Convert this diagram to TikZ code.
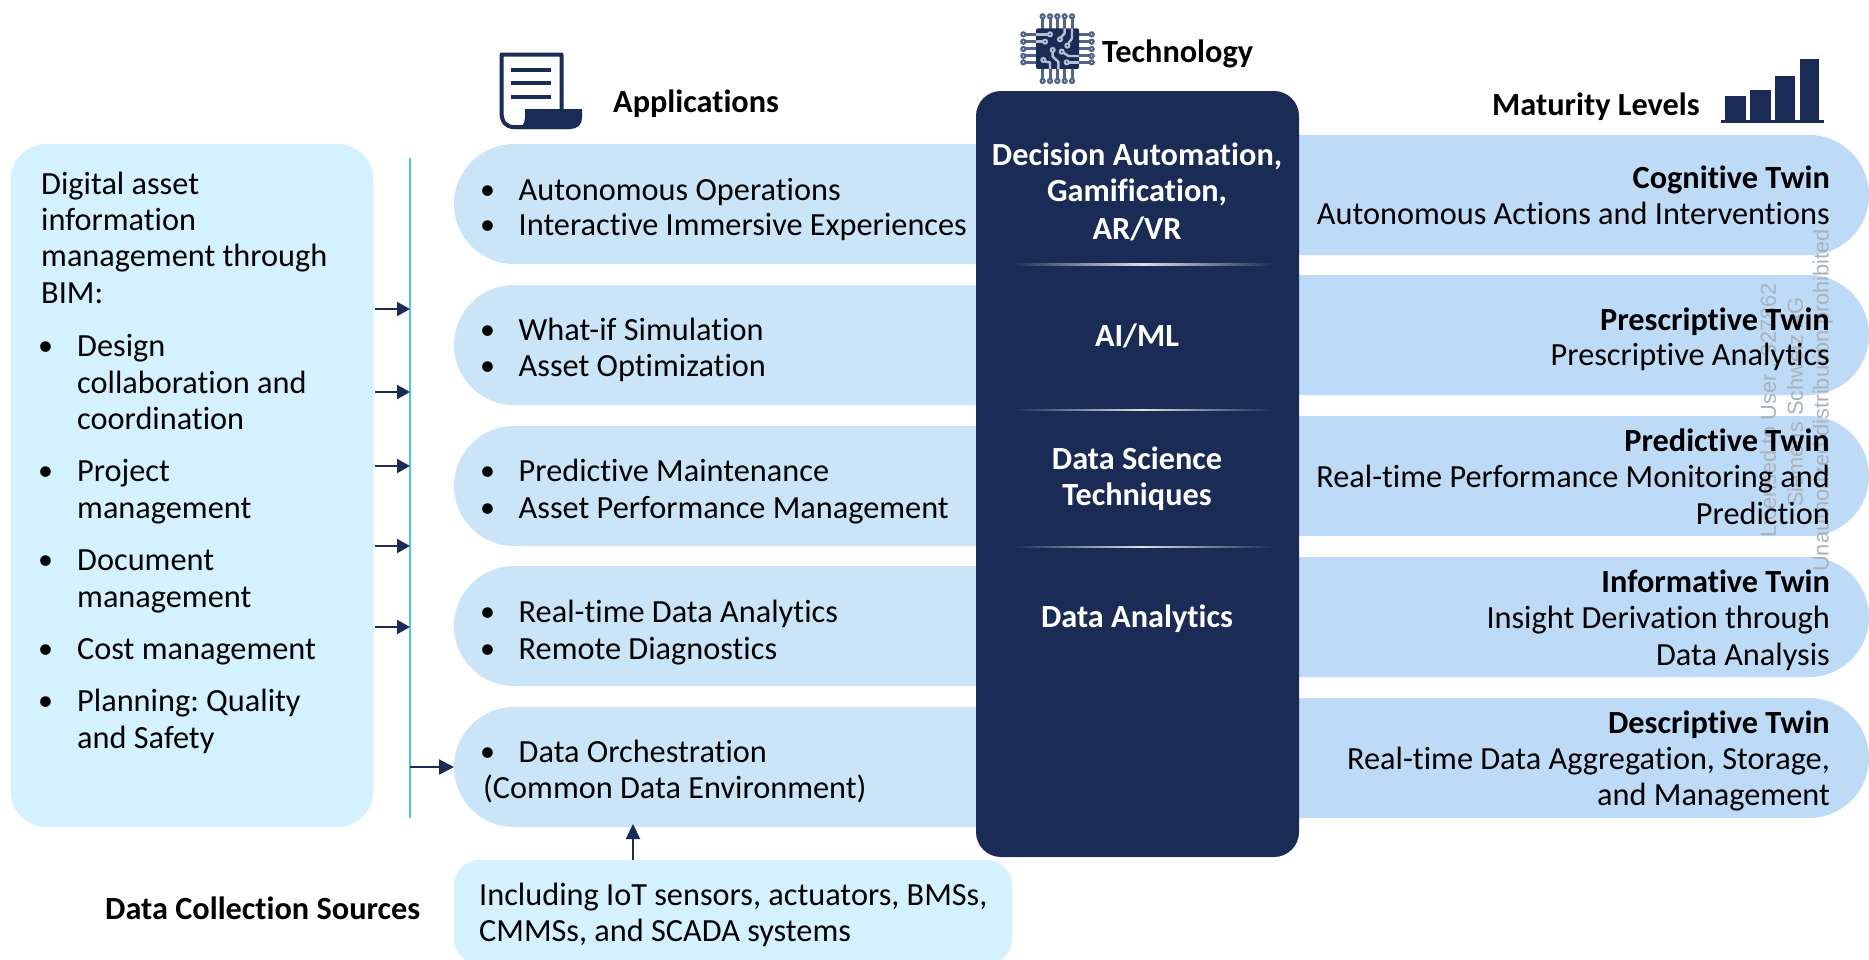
\documentclass[tikz,border=0pt]{standalone}
\usepackage{fontspec}
\setmainfont[Ligatures=NoCommon]{Carlito}
\newfontfamily\wmfont{Liberation Sans}
\usetikzlibrary{arrows.meta}
\AtBeginDocument{\frenchspacing}
\definecolor{navy}{HTML}{1A2C56}
\definecolor{pinblue}{HTML}{50648A}
\definecolor{tracelight}{HTML}{B4C0D4}
\definecolor{apppill}{HTML}{CAE5F8}
\definecolor{twinpill}{HTML}{BDDAF6}
\definecolor{lightbox}{HTML}{D4F1FF}
\definecolor{rulecyan}{HTML}{4FC3F0}
\definecolor{wmgray}{HTML}{A9B2BC}
\tikzset{
  txt/.style={font=\fontsize{32.3}{38}\selectfont,inner sep=0pt,text=black,yshift=-10.5pt},
  lefttxt/.style={txt,anchor=base west},
  righttxt/.style={txt,anchor=base east},
  boldtxt/.style={txt,font=\fontsize{32.3}{38}\selectfont\bfseries},
  bullettxt/.style={txt,anchor=base west,font=\fontsize{30}{30}\selectfont,yshift=1pt},
  techtxt/.style={boldtxt,text=white,anchor=base},
  wmtxt/.style={font=\fontsize{21.8}{22}\selectfont\wmfont,text=wmgray,rotate=90,inner sep=0pt,anchor=west},
  arrowline/.style={navy,line width=2.2pt,-{Triangle[length=13pt,width=14pt]}},
  pinline/.style={pinblue,line width=3pt},
  pinend/.style={pinblue,line width=2.2pt,fill=white},
  trace/.style={tracelight,line width=2.4pt,line join=round},
  tracend/.style={tracelight,line width=2pt,fill=navy},
}
\begin{document}
\begin{tikzpicture}[x=1pt,y=-1pt]
\useasboundingbox (0,0) rectangle (1869,959);
% right pills
\foreach \t in {135,275,416,557,698}{
  \fill[twinpill] (1100,\t) -- (1809,\t) arc[start angle=-90,end angle=90,radius=60] -- (1100,\t+120) -- cycle;
}
% app pills
\foreach \t in {144,285,426,566,707}{
  \fill[apppill] (1100,\t) -- (514,\t) arc[start angle=-90,end angle=-270,radius=60] -- (1100,\t+120) -- cycle;
}
% watermark
\node[wmtxt] (w1) at (1768,538) {Licensed to User : 327862};
\node[wmtxt] (w2) at (1795,507) {Siemens Schweiz AG};
\node[wmtxt] (w3) at (1823,572) {Unauthorized distribution prohibited};
% left box
\node[fill=lightbox,rounded corners=36pt,minimum width=363pt,minimum height=683pt,inner sep=0pt] (leftbox) at (192,485.5) {};
% rule
\coordinate (ruletop) at (410,158);
\coordinate (rulebot) at (410,818);
\draw[rulecyan,line width=1.6pt] (ruletop) -- (rulebot);
% dark box
\node[fill=navy,rounded corners=25pt,minimum width=323pt,minimum height=766pt,inner sep=0pt] (tech) at (1137.5,474) {};
\foreach \y in {264.5,410,547}{
  \shade[left color=navy,right color=navy,middle color=white!85!navy] (1012,\y-0.8) rectangle (1273,\y+0.8);
}
% bottom box
\node[fill=lightbox,rounded corners=25pt,minimum width=558pt,minimum height=104pt,inner sep=0pt] (sources) at (733,912) {};
% arrows
\foreach \n/\y in {a/309,b/392,c/466,d/546,e/627}{
  \coordinate (s\n) at (375,\y);
  \coordinate (t\n) at (410,\y);
  \draw[arrowline] (s\n) -- (t\n);
}
\coordinate (cdeS) at (410,767);
\coordinate (cdeT) at (454,767);
\draw[arrowline,-{Triangle[length=15pt,width=15pt]}] (cdeS) -- (cdeT);
\coordinate (srcT) at (633,824);
\coordinate (srcS) at (633,860);
\draw[arrowline,-{Triangle[length=15pt,width=14pt]}] (srcS) -- (srcT);
% headers
\node[boldtxt,anchor=base west] (happ) at (613,102) {Applications};
\node[boldtxt,anchor=base west] (htech) at (1102,52) {Technology};
\node[boldtxt,anchor=base west] (hmat) at (1492,105) {Maturity Levels};
\node[boldtxt,anchor=base west] (hsrc) at (105,909) {Data Collection Sources};
% left box text
\foreach \n/\y/\s in {l1/183.5/Digital asset,l2/219.5/information,l3/256/management through,l4/293/BIM:}{
  \node[lefttxt] (\n) at (41,\y) {\s};
}
\foreach \n/\y/\s in {l5/345.5/Design,l6/382.5/collaboration and,l7/418.5/coordination,l8/471/Project,l9/508/management,l10/560/Document,l11/597/management,l12/648.5/Cost management,l13/701/Planning: Quality,l14/738/and Safety}{
  \node[lefttxt] (\n) at (77,\y) {\s};
}
\foreach \n/\y in {b5/345.5,b8/471,b10/560,b12/648.5,b13/701}{
  \node[bullettxt] (\n) at (38,\y) {•};
}
% apps text
\foreach \n/\y/\s in {a1/189.5/Autonomous Operations,a2/225/Interactive Immersive Experiences,a3/330/What-if Simulation,a4/366/Asset Optimization,a5/471/Predictive Maintenance,a6/507.5/Asset Performance Management,a7/611.5/Real-time Data Analytics,a8/648.5/Remote Diagnostics,a9/752/Data Orchestration}{
  \node[lefttxt] (\n) at (518.5,\y) {\s};
  \node[bullettxt] (\n b) at (480,\y) {•};
}
\node[lefttxt] (a10) at (483,788) {(Common Data Environment)};
% tech text
\node[techtxt] (t1) at (1137,155) {Decision Automation,};
\node[techtxt] (t2) at (1137,191) {Gamification,};
\node[techtxt] (t3) at (1137,229) {AR/VR};
\node[techtxt] (t4) at (1137,336) {AI/ML};
\node[techtxt] (t5) at (1137,459) {Data Science};
\node[techtxt] (t6) at (1137,495) {Techniques};
\node[techtxt] (t7) at (1137,617) {Data Analytics};
% twin text
\node[boldtxt,anchor=base east] (r1) at (1830,178) {Cognitive Twin};
\node[righttxt] (r2) at (1830,214) {Autonomous Actions and Interventions};
\node[boldtxt,anchor=base east] (r3) at (1830,319.5) {Prescriptive Twin};
\node[righttxt] (r4) at (1830,355) {Prescriptive Analytics};
\node[boldtxt,anchor=base east] (r5) at (1830,441) {Predictive Twin};
\node[righttxt] (r6) at (1830,477) {Real-time Performance Monitoring and};
\node[righttxt] (r7) at (1830,514) {Prediction};
\node[boldtxt,anchor=base east] (r8) at (1830,582) {Informative Twin};
\node[righttxt] (r9) at (1830,618) {Insight Derivation through};
\node[righttxt] (r10) at (1830,654.5) {Data Analysis};
\node[boldtxt,anchor=base east] (r11) at (1830,722.5) {Descriptive Twin};
\node[righttxt] (r12) at (1830,759) {Real-time Data Aggregation, Storage,};
\node[righttxt] (r13) at (1830,795) {and Management};
% sources text
\node[lefttxt] (s1) at (479,895) {Including IoT sensors, actuators, BMSs,};
\node[lefttxt] (s2) at (479,931) {CMMSs, and SCADA systems};
% document icon
\draw[navy,line width=4pt,line join=round] (561.5,109) -- (561.5,54.5) -- (501.5,54.5) -- (501.5,112) .. controls (501.5,122) and (506,127) .. (514,127) -- (570,127);
\fill[navy] (525,109) -- (582,109) -- (582,118) .. controls (582,125) and (577,129) .. (570,129) -- (514,129) .. controls (521,129) and (525,124) .. (525,118) -- cycle;
\foreach \y in {70,83.3,97}{
  \draw[navy,line width=4pt] (511,\y) -- (550.5,\y);
}
% chip icon (coordinates in thirds of a pixel from 1010,5)
\begin{scope}[shift={(1010,5)},x=0.3333pt,y=-0.3333pt]
  \foreach \x in {98,120,142,164,186}{
    \draw[pinline] (\x,38) -- (\x,72);
    \draw[pinline] (\x,190) -- (\x,222);
    \draw[pinend] (\x,34) circle (2pt);
    \draw[pinend] (\x,228) circle (2pt);
  }
  \foreach \y in {88,110,132,153,172}{
    \draw[pinline] (44,\y) -- (80,\y);
    \draw[pinline] (205,\y) -- (240,\y);
    \draw[pinend] (40,\y) circle (2pt);
    \draw[pinend] (245,\y) circle (2pt);
  }
  \fill[navy,rounded corners=2pt] (78,70) rectangle (207,192);
  \draw[trace] (78,88) -- (114,88);
  \draw[trace] (78,110) -- (99,110);
  \draw[trace] (164,70) -- (164,85) -- (152,98);
  \draw[trace] (186,70) -- (186,100) -- (176,114);
  \draw[trace] (128,142) -- (128,155) -- (145,170) -- (145,192);
  \draw[trace] (106,170) -- (120,172) -- (120,192);
  \draw[trace] (207,153) -- (175,153) -- (160,143);
  \draw[trace] (207,172) -- (176,172);
  \draw[tracend] (120,88) circle (2pt);
  \draw[tracend] (105,110) circle (2pt);
  \draw[tracend] (150,103) circle (2pt);
  \draw[tracend] (172,122) circle (2pt);
  \draw[tracend] (128,135) circle (2pt);
  \draw[tracend] (100,165) circle (2pt);
  \draw[tracend] (155,140) circle (2pt);
  \draw[tracend] (170,172) circle (2pt);
\end{scope}
% chart icon
\fill[navy] (1725,95.7) rectangle (1745.6,120);
\fill[navy] (1750,90) rectangle (1770.5,120);
\fill[navy] (1775,75.7) rectangle (1795,120);
\fill[navy] (1799.5,59) rectangle (1819,120);
\draw[navy,line width=2.5pt] (1721,121.5) -- (1824,121.5);
\end{tikzpicture}
\end{document}
